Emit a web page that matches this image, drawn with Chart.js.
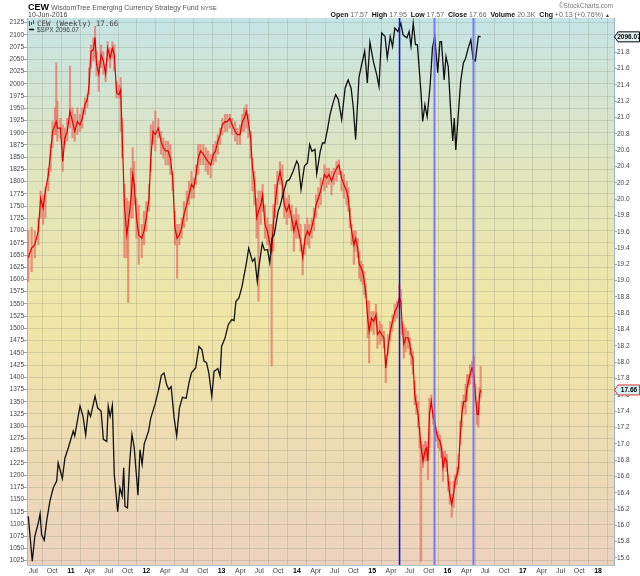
<!DOCTYPE html>
<html>
<head>
<meta charset="utf-8">
<script src="https://cdn.jsdelivr.net/npm/chart.js@4.4.0/dist/chart.umd.min.js"></script>
<style>
  html, body { margin: 0; padding: 0; background: #fff; }
</style>
</head>
<body>
<canvas id="chart" width="640" height="576"></canvas>
<script>
// x axis ticks (decimal years)
const xTickValues = [2010.5,2010.75,2011,2011.25,2011.5,2011.75,2012,2012.25,2012.5,2012.75,2013,2013.25,2013.5,2013.75,2014,2014.25,2014.5,2014.75,2015,2015.25,2015.5,2015.75,2016,2016.25,2016.5,2016.75,2017,2017.25,2017.5,2017.75,2018];
const xTickLabels = ['Jul','Oct','11','Apr','Jul','Oct','12','Apr','Jul','Oct','13','Apr','Jul','Oct','14','Apr','Jul','Oct','15','Apr','Jul','Oct','16','Apr','Jul','Oct','17','Apr','Jul','Oct','18'];

// left axis ($SPX) and right axis (CEW) ticks
const spxTicks = [1025,1050,1075,1100,1125,1150,1175,1200,1225,1250,1275,1300,1325,1350,1375,1400,1425,1450,1475,1500,1525,1550,1575,1600,1625,1650,1675,1700,1725,1750,1775,1800,1825,1850,1875,1900,1925,1950,1975,2000,2025,2050,2075,2100,2125];
const cewTicks = [15.6,15.8,16.0,16.2,16.4,16.6,16.8,17.0,17.2,17.4,17.6,17.8,18.0,18.2,18.4,18.6,18.8,19.0,19.2,19.4,19.6,19.8,20.0,20.2,20.4,20.6,20.8,21.0,21.2,21.4,21.6,21.8,22.0];

// $SPX close
const spxDates = [
  2010.433,2010.486,2010.52,2010.566,2010.59,2010.61,2010.645,2010.677,2010.72,2010.765,2010.81,2010.83,2010.885,2010.92,2010.965,
  2011.03,2011.05,2011.12,2011.16,2011.195,2011.23,2011.26,2011.32,2011.354,2011.40,2011.43,2011.475,2011.495,2011.52,2011.55,
  2011.575,2011.62,2011.65,2011.68,2011.70,2011.717,2011.75,2011.78,2011.81,2011.84,2011.89,2011.916,2011.945,2011.973,2012.03,
  2012.06,2012.115,2012.16,2012.20,2012.235,2012.27,2012.30,2012.33,2012.37,2012.404,2012.44,2012.48,2012.53,2012.567,2012.60,
  2012.655,2012.70,2012.74,2012.766,2012.80,2012.83,2012.87,2012.90,2012.95,2012.98,2013.00,2013.045,2013.09,2013.135,2013.165,
  2013.19,2013.23,2013.27,2013.33,2013.36,2013.41,2013.44,2013.474,2013.50,2013.54,2013.57,2013.61,2013.64,2013.67,2013.70,
  2013.75,2013.78,2013.82,2013.864,2013.90,2013.95,2013.997,2014.02,2014.055,2014.10,2014.14,2014.17,2014.20,2014.24,2014.263,
  2014.31,2014.34,2014.37,2014.41,2014.44,2014.48,2014.515,2014.55,2014.595,2014.64,2014.68,2014.72,2014.75,2014.78,2014.825,
  2014.86,2014.90,2014.935,2014.97,2015.015,2015.06,2015.09,2015.126,2015.17,2015.20,2015.24,2015.27,2015.30,2015.34,2015.38,
  2015.41,2015.46,2015.49,2015.515,2015.545,2015.575,2015.60,2015.65,2015.67,2015.70,2015.73,2015.77,2015.80,2015.83,2015.87,
  2015.90,2015.92,2015.955,2015.98,2016.01,2016.045,2016.07,2016.09,2016.11,2016.14,2016.175,2016.21,2016.24,2016.275,2016.31,
  2016.34,2016.37,2016.41,2016.44
];
const spxClose = [
  1116,1024,1075,1102,1121,1078,1067,1106,1147,1174,1188,1225,1193,1235,1256,
  1290,1280,1341,1320,1282,1331,1320,1361,1337,1331,1273,1269,1341,1320,1343,
  1201,1125,1174,1157,1215,1136,1133,1228,1283,1256,1159,1252,1222,1264,1290,
  1317,1344,1372,1404,1409,1385,1375,1381,1317,1280,1337,1359,1357,1389,1409,
  1419,1463,1456,1433,1430,1409,1361,1412,1418,1402,1463,1480,1508,1518,1516,
  1555,1562,1585,1634,1664,1637,1643,1596,1630,1674,1660,1661,1634,1685,1692,
  1739,1752,1777,1801,1804,1821,1842,1835,1784,1832,1838,1876,1862,1866,1816,
  1862,1879,1879,1910,1937,1961,1978,1968,1927,1991,2008,1991,1950,1886,2014,
  2039,2067,2002,2085,2046,2019,1995,2104,2097,2053,2097,2076,2114,2107,2124,
  2100,2094,2107,2077,2124,2080,2080,1978,1923,1957,1933,1998,2073,2097,2023,
  2086,2086,2008,2056,2035,1937,1883,1930,1865,1930,2005,2042,2052,2073,2090,
  2050,2047,2097,2096.07
];

// CEW weekly-ish close, low, high
const cewDates = [
  2010.433,2010.478,2010.52,2010.566,2010.597,2010.63,2010.66,2010.70,2010.73,2010.756,2010.787,2010.805,2010.82,2010.86,2010.89,
  2010.92,2010.95,2010.987,2011.02,2011.05,2011.085,2011.12,2011.15,2011.186,2011.217,2011.24,2011.266,2011.297,2011.32,2011.34,
  2011.37,2011.40,2011.43,2011.46,2011.487,2011.52,2011.55,2011.575,2011.606,2011.637,2011.66,2011.68,2011.71,2011.74,2011.76,
  2011.797,2011.82,2011.84,2011.87,2011.90,2011.94,2011.97,2012.00,2012.036,2012.06,2012.09,2012.12,2012.16,2012.195,2012.226,
  2012.257,2012.29,2012.32,2012.35,2012.38,2012.41,2012.44,2012.47,2012.50,2012.536,2012.567,2012.60,2012.63,2012.66,2012.69,
  2012.72,2012.757,2012.79,2012.82,2012.855,2012.89,2012.92,2012.95,2012.98,2013.01,2013.045,2013.076,2013.11,2013.14,2013.18,
  2013.21,2013.244,2013.275,2013.30,2013.33,2013.355,2013.386,2013.41,2013.435,2013.466,2013.49,2013.52,2013.545,2013.576,2013.607,
  2013.634,2013.665,2013.687,2013.71,2013.74,2013.776,2013.807,2013.833,2013.864,2013.895,2013.93,2013.96,2013.99,2014.02,2014.05,
  2014.077,2014.108,2014.14,2014.165,2014.196,2014.227,2014.254,2014.285,2014.316,2014.365,2014.395,2014.426,2014.46,2014.49,2014.527,
  2014.558,2014.593,2014.624,2014.66,2014.683,2014.705,2014.727,2014.757,2014.78,2014.807,2014.828,2014.85,2014.873,2014.895,2014.913,
  2014.94,2014.96,2014.99,2015.02,2015.05,2015.07,2015.10,2015.125,2015.155,2015.18,2015.21,2015.24,2015.27,2015.30,2015.33,
  2015.36,2015.38,2015.40,2015.42,2015.445,2015.476,2015.50,2015.52,2015.54,2015.565,2015.586,2015.61,2015.63,2015.65,2015.675,
  2015.70,2015.72,2015.74,2015.76,2015.785,2015.81,2015.83,2015.85,2015.875,2015.90,2015.92,2015.94,2015.965,2015.99,2016.01,
  2016.03,2016.057,2016.08,2016.10,2016.125,2016.146,2016.17,2016.19,2016.215,2016.24,2016.26,2016.28,2016.30,2016.326,2016.35,
  2016.37,2016.393,2016.41,2016.425,2016.44
];
const cewClose = [
  19.28,19.40,19.44,19.61,20.01,19.89,20.10,20.30,20.59,20.83,20.91,20.95,20.87,20.87,20.46,
  20.75,20.83,21.08,20.95,20.83,20.95,20.91,20.99,21.16,21.22,21.40,21.81,21.83,21.98,21.65,
  21.53,21.77,21.69,21.53,21.85,21.73,21.85,21.77,21.30,21.28,21.34,20.79,19.93,19.56,19.69,
  20.01,20.30,20.18,19.77,19.56,19.52,19.61,19.77,20.01,20.50,20.83,20.79,20.87,20.71,20.63,
  20.59,20.59,20.50,20.26,19.65,19.52,19.56,19.65,19.81,19.93,20.05,20.18,20.14,20.30,20.50,
  20.59,20.55,20.50,20.46,20.42,20.55,20.59,20.71,20.79,20.91,20.95,20.95,20.99,20.91,20.83,
  20.79,20.79,20.95,20.99,21.08,20.95,20.75,20.38,20.22,19.77,19.85,19.93,20.05,19.69,19.61,
  19.48,19.36,19.69,19.93,20.18,20.34,20.18,19.93,19.85,19.93,19.77,19.61,19.73,19.61,19.48,
  19.28,19.52,19.61,19.56,19.65,19.77,19.93,20.01,20.10,20.30,20.26,20.30,20.22,20.30,20.38,
  20.42,20.26,20.18,20.10,20.01,19.77,19.61,19.44,19.52,19.40,19.20,19.16,19.11,18.99,18.87,
  18.54,18.38,18.54,18.50,18.58,18.34,18.38,18.34,18.30,17.93,18.17,18.38,18.50,18.62,18.67,
  18.79,18.75,18.42,18.22,18.30,18.30,18.22,18.09,18.05,17.60,17.48,17.36,17.15,16.95,16.79,
  16.91,16.95,16.79,17.36,17.52,17.32,17.28,17.15,17.07,17.03,16.95,16.71,16.83,16.79,16.54,
  16.38,16.26,16.38,16.54,16.62,16.71,17.11,17.36,17.52,17.52,17.69,17.77,17.85,17.93,17.85,
  17.60,17.36,17.36,17.60,17.66
];
const cewLow = [
  18.99,19.11,19.28,19.44,19.77,19.69,19.77,20.10,20.34,20.63,20.79,20.79,20.71,20.75,20.34,
  20.67,20.71,20.87,20.75,20.71,20.79,20.83,20.87,21.04,21.12,21.28,21.61,21.69,21.73,21.51,
  21.32,21.61,21.53,21.44,21.69,21.61,21.73,21.57,21.24,21.24,20.83,20.50,19.28,19.28,18.73,
  19.77,19.77,19.93,19.52,19.20,19.28,19.44,19.61,19.85,20.34,20.67,20.59,20.75,20.55,20.50,
  20.42,20.42,20.30,20.10,19.44,19.03,19.44,19.52,19.65,19.73,19.93,20.01,20.01,20.18,20.30,
  20.42,20.42,20.34,20.30,20.26,20.42,20.46,20.55,20.67,20.79,20.83,20.83,20.87,20.79,20.71,
  20.67,20.67,20.83,20.83,20.87,20.75,20.50,20.10,19.93,19.52,18.75,19.69,19.85,19.52,19.44,
  19.36,17.95,19.36,19.77,19.93,20.18,20.01,19.77,19.69,19.77,19.61,19.36,19.52,19.52,19.36,
  19.07,19.32,19.44,19.40,19.52,19.61,19.77,19.89,19.93,20.10,20.14,20.18,20.05,20.18,20.22,
  20.30,20.10,20.01,19.93,19.85,19.65,19.44,19.20,19.36,19.28,19.03,18.99,18.95,18.83,18.79,
  18.30,17.99,18.38,18.34,18.46,18.17,18.22,18.26,18.17,17.75,18.09,18.26,18.38,18.50,18.54,
  18.67,18.67,18.34,18.05,18.13,18.17,18.09,17.97,17.85,17.48,17.36,17.20,16.95,15.56,16.71,
  16.79,16.79,16.56,16.95,17.44,17.24,17.15,17.03,16.95,16.91,16.83,16.54,16.71,16.66,16.42,
  16.26,16.10,16.22,16.46,16.50,16.62,16.99,17.20,17.44,17.36,17.52,17.69,17.73,17.81,17.69,
  17.52,17.24,17.20,17.52,17.57
];
const cewHigh = [
  19.61,19.65,19.61,19.77,20.10,20.05,20.14,20.38,20.67,20.95,21.12,21.67,21.20,20.99,20.91,
  20.87,20.99,21.63,21.12,21.04,21.12,21.04,21.12,21.24,21.28,21.61,21.89,21.98,22.12,21.81,
  21.69,21.89,21.81,21.65,21.93,21.85,21.93,21.89,21.44,21.40,21.49,20.99,20.18,20.01,19.97,
  20.38,20.63,20.46,20.01,19.93,19.69,19.85,19.97,20.18,20.91,20.95,21.08,20.99,20.83,20.75,
  20.71,20.71,20.67,20.34,19.85,19.69,19.69,19.77,19.97,20.10,20.22,20.34,20.26,20.42,20.67,
  20.67,20.67,20.63,20.59,20.55,20.67,20.71,20.79,20.87,20.99,21.04,21.04,21.04,20.99,20.95,
  20.87,20.91,21.04,21.12,21.16,21.04,20.83,20.50,20.34,20.01,20.10,20.10,20.18,19.93,19.77,
  19.69,19.69,19.93,20.18,20.34,20.46,20.42,20.10,20.01,20.05,19.93,19.81,19.89,19.81,19.69,
  19.44,19.69,19.77,19.69,19.77,19.89,20.05,20.14,20.26,20.42,20.38,20.38,20.34,20.38,20.46,
  20.48,20.34,20.30,20.22,20.14,19.89,19.69,19.61,19.61,19.52,19.36,19.24,19.20,19.11,18.95,
  18.75,18.75,18.62,18.62,18.71,18.46,18.50,18.46,18.38,18.09,18.34,18.50,18.58,18.71,18.75,
  18.95,18.89,18.50,18.46,18.42,18.38,18.30,18.17,18.13,17.77,17.60,17.52,17.20,17.03,16.99,
  17.03,17.03,16.95,17.56,17.60,17.40,17.36,17.20,17.15,17.11,16.99,16.91,16.91,16.87,16.62,
  16.54,16.38,16.54,16.62,16.71,16.87,17.28,17.52,17.60,17.73,17.85,17.85,17.97,18.01,18.07,
  17.73,17.52,17.52,17.69,17.95
];

// vertical marker lines
const markerDates = [2015.36, 2015.82, 2016.335];
const markerColors = ['#1010f0', 'rgba(110,110,250,0.9)', 'rgba(110,110,250,0.9)'];

const tickFont = '"Liberation Sans", Arial, sans-serif';
Chart.defaults.font.family = tickFont;

const backgroundPlugin = {
  id: 'background',
  beforeDraw(chart) {
    const { ctx, chartArea: a } = chart;
    ctx.save();
    ctx.fillStyle = '#fff';
    ctx.fillRect(0, 0, chart.width, chart.height);
    const g = ctx.createLinearGradient(0, a.top, 0, a.bottom);
    g.addColorStop(0, '#c6e4e5');
    g.addColorStop(0.28, '#e1e5bd');
    g.addColorStop(0.55, '#f0e6a6');
    g.addColorStop(1, '#ebd2bf');
    ctx.fillStyle = g;
    ctx.fillRect(a.left, a.top, a.right - a.left, a.bottom - a.top);
    ctx.restore();
  }
};

const markerPlugin = {
  id: 'markers',
  afterDatasetsDraw(chart) {
    const { ctx, chartArea: a, scales } = chart;
    ctx.save();
    markerDates.forEach((t, i) => {
      const x = Math.round(scales.x.getPixelForValue(t)) + 0.5;
      ctx.strokeStyle = markerColors[i];
      ctx.lineWidth = i === 0 ? 1.5 : 2;
      ctx.beginPath();
      ctx.moveTo(x, a.top);
      ctx.lineTo(x, a.bottom);
      ctx.stroke();
    });
    ctx.restore();
  }
};

function drawTag(ctx, x, y, text, border, fill) {
  ctx.save();
  ctx.beginPath();
  ctx.moveTo(x + 0.5, y);
  ctx.lineTo(x + 4, y - 5);
  ctx.lineTo(x + 25.5, y - 5);
  ctx.lineTo(x + 25.5, y + 5);
  ctx.lineTo(x + 4, y + 5);
  ctx.closePath();
  ctx.fillStyle = fill;
  ctx.fill();
  ctx.strokeStyle = border;
  ctx.lineWidth = 1;
  ctx.stroke();
  ctx.fillStyle = '#000';
  ctx.font = 'bold 6.5px ' + tickFont;
  ctx.textBaseline = 'middle';
  ctx.textAlign = 'center';
  ctx.fillText(text, x + 15, y + 0.5);
  ctx.restore();
}

const textPlugin = {
  id: 'texts',
  afterDraw(chart) {
    const { ctx, chartArea: a, scales } = chart;
    ctx.save();
    ctx.textBaseline = 'alphabetic';

    // title
    ctx.fillStyle = '#000';
    ctx.font = 'bold 9px ' + tickFont;
    ctx.fillText('CEW', 28, 10);
    let x = 28 + ctx.measureText('CEW').width + 2;
    ctx.fillStyle = '#555';
    ctx.font = '7px ' + tickFont;
    const desc = 'WisdomTree Emerging Currency Strategy Fund ';
    ctx.fillText(desc, x, 10);
    x += ctx.measureText(desc).width;
    ctx.font = '6px ' + tickFont;
    ctx.fillText('NYSE', x, 10);
    ctx.fillStyle = '#444';
    ctx.font = '7px ' + tickFont;
    ctx.fillText('10-Jun-2016', 28, 17);

    // top right
    ctx.fillStyle = '#777';
    ctx.font = '6.5px ' + tickFont;
    ctx.textAlign = 'right';
    ctx.fillText('\u00a9StockCharts.com', 613, 8);
    ctx.textAlign = 'left';
    const parts = [['Open', 1], [' 17.57  ', 0], ['High', 1], [' 17.95  ', 0], ['Low', 1], [' 17.57  ', 0],
      ['Close', 1], [' 17.66  ', 0], ['Volume', 1], [' 20.3K  ', 0], ['Chg', 1], [' +0.13 (+0.76%) ', 0], ['\u25b2', 0]];
    let total = 0;
    parts.forEach(p => {
      ctx.font = (p[1] ? 'bold ' : '') + '7px ' + tickFont;
      total += ctx.measureText(p[0]).width;
    });
    x = 612 - total;
    parts.forEach(p => {
      ctx.font = (p[1] ? 'bold ' : '') + '7px ' + tickFont;
      ctx.fillStyle = p[1] ? '#111' : '#666';
      if (p[0] === '\u25b2') { ctx.font = '5px ' + tickFont; ctx.fillStyle = '#333'; }
      ctx.fillText(p[0], x, 17);
      x += ctx.measureText(p[0]).width;
    });

    // legend
    ctx.strokeStyle = '#e01010';
    ctx.lineWidth = 1;
    [[29.5, 21, 26], [31.5, 22, 25], [33.5, 20, 24]].forEach(s => {
      ctx.beginPath(); ctx.moveTo(s[0], s[1]); ctx.lineTo(s[0], s[2]); ctx.stroke();
    });
    ctx.fillStyle = '#444';
    ctx.font = '7.5px "DejaVu Sans Mono", monospace';
    ctx.fillText('CEW (Weekly) 17.66', 37, 26);
    ctx.strokeStyle = '#000';
    ctx.lineWidth = 1.5;
    ctx.beginPath(); ctx.moveTo(29, 29.5); ctx.lineTo(34, 29.5); ctx.stroke();
    ctx.font = '6.5px ' + tickFont;
    ctx.fillText('$SPX 2096.07', 37, 32);
    ctx.restore();

    // last value tags on the right axis
    const ySpx = scales.ySpx.getPixelForValue(spxClose[spxClose.length - 1]);
    drawTag(ctx, a.right, ySpx, '2096.07', '#000', '#e4f2f2');
    const yCew = scales.yCew.getPixelForValue(cewClose[cewClose.length - 1]);
    drawTag(ctx, a.right, yCew, '17.66', '#e03030', '#d8eef0');
  }
};

const gridColor = 'rgba(120,125,105,0.22)';

new Chart(document.getElementById('chart'), {
  type: 'line',
  data: {
    datasets: [
      {
        label: '$SPX',
        type: 'line',
        yAxisID: 'ySpx',
        data: spxDates.map((t, i) => ({ x: t, y: spxClose[i] })),
        borderColor: '#111',
        borderWidth: 1.3,
        pointRadius: 0,
        tension: 0,
        order: 0
      },
      {
        label: 'CEW close',
        type: 'line',
        yAxisID: 'yCew',
        data: cewDates.map((t, i) => ({ x: t, y: cewClose[i] })),
        borderColor: '#e00000',
        borderWidth: 1.2,
        pointRadius: 0,
        tension: 0,
        order: 1
      },
      {
        label: 'CEW range',
        type: 'bar',
        yAxisID: 'yCew',
        data: cewDates.map((t, i) => ({ x: t, y: [cewLow[i], cewHigh[i]] })),
        backgroundColor: 'rgba(228,110,95,0.7)',
        barThickness: 1.5,
        grouped: false,
        order: 2
      }
    ]
  },
  options: {
    responsive: false,
    animation: false,
    layout: { padding: { top: 18, left: 0, right: 0, bottom: 0 } },
    plugins: {
      legend: { display: false },
      tooltip: { enabled: false }
    },
    scales: {
      x: {
        type: 'linear',
        min: 2010.416,
        max: 2018.211,
        offset: false,
        afterBuildTicks: (scale) => { scale.ticks = xTickValues.map(v => ({ value: v })); },
        afterFit: (scale) => { scale.height = 11; },
        grid: { color: gridColor, drawTicks: false },
        border: { color: '#b0c4cc' },
        ticks: {
          padding: 2,
          autoSkip: false,
          maxRotation: 0,
          color: (c) => /^\d+$/.test(xTickLabels[c.index]) ? '#000' : '#444',
          font: (c) => ({ size: 7, weight: /^\d+$/.test(xTickLabels[c.index]) ? 'bold' : 'normal' }),
          callback: (value, index) => xTickLabels[index]
        }
      },
      ySpx: {
        type: 'linear',
        position: 'left',
        min: 1016.2,
        max: 2134.6,
        afterBuildTicks: (scale) => { scale.ticks = spxTicks.map(v => ({ value: v })); },
        afterFit: (scale) => { scale.width = 27; },
        grid: { color: gridColor, tickLength: 3, tickColor: '#9aa' },
        border: { color: '#a8bcc8' },
        ticks: {
          padding: 0,
          autoSkip: false,
          color: '#444',
          font: { size: 6.5 },
          callback: (v) => String(v)
        }
      },
      yCew: {
        type: 'linear',
        position: 'right',
        min: 15.514,
        max: 22.22,
        afterBuildTicks: (scale) => { scale.ticks = cewTicks.map(v => ({ value: v })); },
        afterFit: (scale) => { scale.width = 26; },
        grid: { drawOnChartArea: false, tickLength: 3, tickColor: '#9aa' },
        border: { color: '#9ab4c0', dash: [1, 1] },
        ticks: {
          padding: 0,
          autoSkip: false,
          color: '#444',
          font: { size: 6.5 },
          callback: (v) => Number(v).toFixed(1)
        }
      }
    }
  },
  plugins: [backgroundPlugin, markerPlugin, textPlugin]
});
</script>
</body>
</html>
